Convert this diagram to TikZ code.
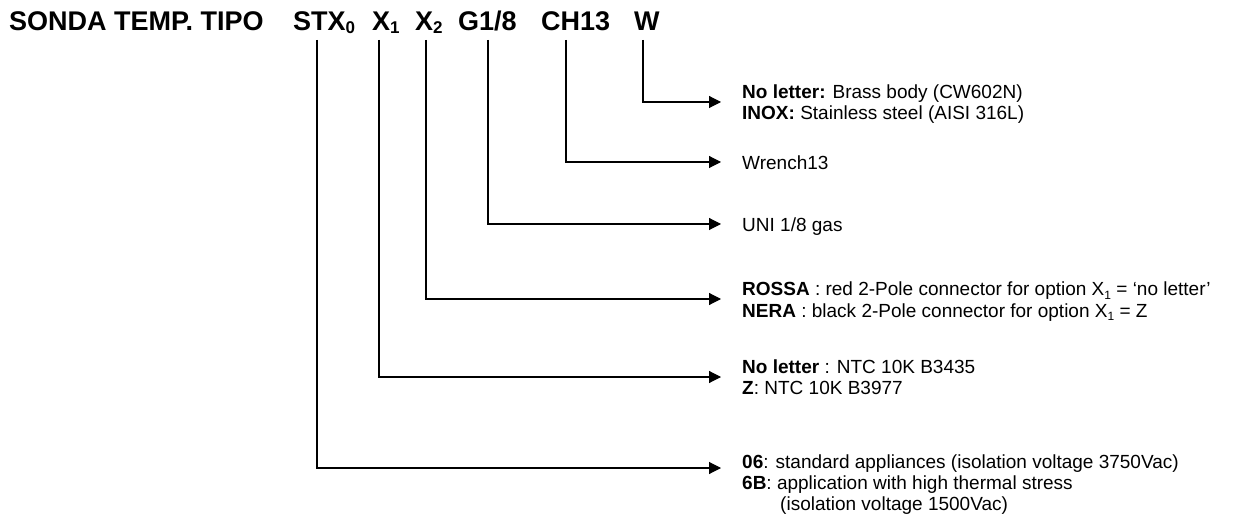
\documentclass[tikz,border=0pt]{standalone}
\usepackage{fontspec}
\setmainfont{Liberation Sans}
\usetikzlibrary{arrows.meta}
\newcommand\lsub[1]{\raisebox{-0.3ex}{\fontsize{12}{12}\selectfont #1}}
\newcommand\tsub[1]{\raisebox{-0.15ex}{\fontsize{17}{17}\selectfont #1}}
\begin{document}
\begin{tikzpicture}[x=1pt,y=-1pt,
  titletxt/.style={font=\fontsize{27}{30}\selectfont\bfseries, inner sep=0, anchor=base west},
  lbl/.style={font=\fontsize{19}{21}\selectfont, inner sep=0, anchor=base west},
  conn/.style={line width=1.1pt, -{Triangle[length=12pt,width=12pt]}}]
\useasboundingbox (0,0) rectangle (1257,518);

% title
\node[titletxt] (tA)  at (9,31)   {SONDA TEMP. TIPO};
\node[titletxt] (tS)  at (293,31) {STX\tsub{0}};
\node[titletxt] (tX1) at (372,31) {X\tsub{1}};
\node[titletxt] (tX2) at (415,31) {X\tsub{2}};
\node[titletxt] (tG)  at (458,31) {G1/8};
\node[titletxt] (tC)  at (541,31) {CH13};
\node[titletxt] (tW)  at (634,31) {W};

% connector starts
\coordinate (vS)  at (317,40);
\coordinate (vX1) at (379,40);
\coordinate (vX2) at (426,40);
\coordinate (vG)  at (488,40);
\coordinate (vC)  at (566,40);
\coordinate (vW)  at (643,40);

% arrow tips
\coordinate (aW)  at (721,102);
\coordinate (aC)  at (721,162);
\coordinate (aG)  at (721,224);
\coordinate (aX2) at (721,299);
\coordinate (aX1) at (721,377);
\coordinate (aS)  at (721,468);

% labels
\node[lbl] (lW) at (742,99) {\begin{tabular}[t]{@{}l@{}}\textbf{No letter:} Brass body (CW602N)\\\textbf{INOX:} Stainless steel (AISI 316L)\end{tabular}};
\node[lbl] (lC) at (742,170) {Wrench13};
\node[lbl] (lG) at (742,232) {UNI 1/8 gas};
\node[lbl] (lX2) at (742,296) {\begin{tabular}[t]{@{}l@{}}\textbf{ROSSA} : red 2-Pole connector for option X\lsub{1} = ‘no letter’\\\textbf{NERA} : black 2-Pole connector for option X\lsub{1} = Z\end{tabular}};
\node[lbl] (lX1) at (742,373) {\begin{tabular}[t]{@{}l@{}}\textbf{No letter} : NTC 10K B3435\\\textbf{Z}: NTC 10K B3977\end{tabular}};
\node[lbl] (lS) at (742,468) {\begin{tabular}[t]{@{}l@{}}\textbf{06}: standard appliances (isolation voltage 3750Vac)\\\textbf{6B}: application with high thermal stress\\\hspace*{38pt}(isolation voltage 1500Vac)\end{tabular}};

% connectors
\draw[conn] (vW)  |- (aW);
\draw[conn] (vC)  |- (aC);
\draw[conn] (vG)  |- (aG);
\draw[conn] (vX2) |- (aX2);
\draw[conn] (vX1) |- (aX1);
\draw[conn] (vS)  |- (aS);
\end{tikzpicture}
\end{document}
